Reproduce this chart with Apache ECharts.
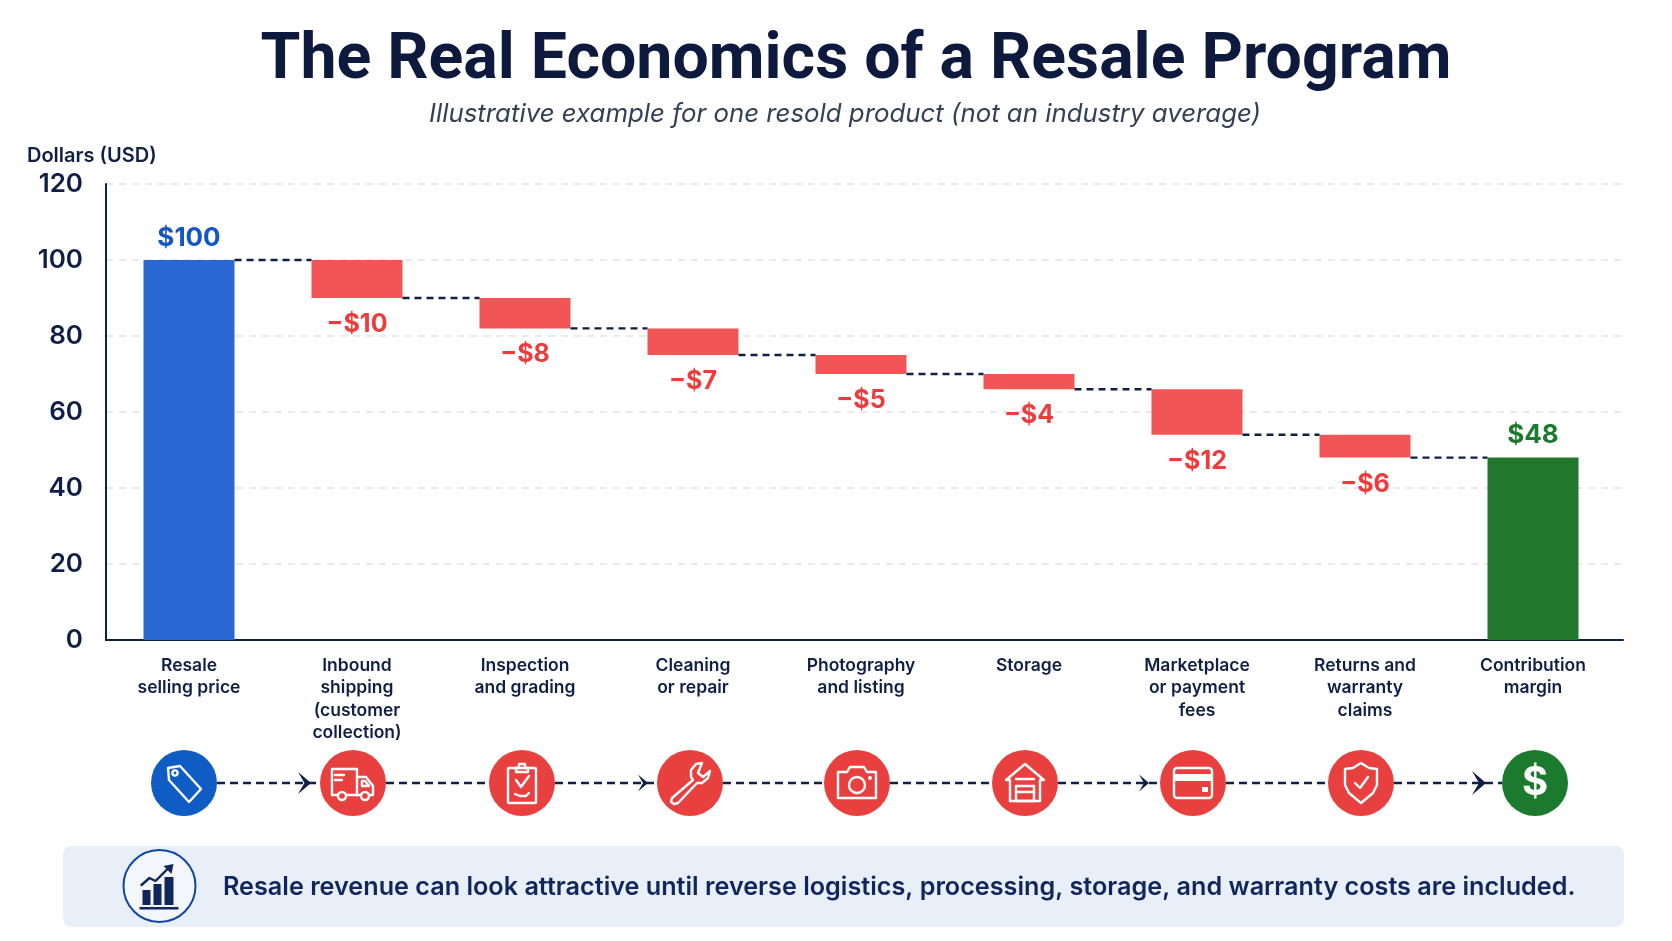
<!DOCTYPE html>
<html>
<head>
<meta charset="utf-8">
<style>html,body{margin:0;padding:0;background:#fff}#c{width:1672px;height:941px}</style>
<script src="https://cdn.jsdelivr.net/npm/echarts@6/dist/echarts.min.js"></script>
</head>
<body>
<div id="c"></div>
<script>
const categories = ['Resale\nselling price','Inbound\nshipping\n(customer\ncollection)','Inspection\nand grading','Cleaning\nor repair','Photography\nand listing','Storage','Marketplace\nor payment\nfees','Returns and\nwarranty\nclaims','Contribution\nmargin'];
const barTypes = ['total','cost','cost','cost','cost','cost','cost','cost','result'];
const barValues = [100,10,8,7,5,4,12,6,48];
const barBases = [0,90,82,75,70,66,54,48,0];
const connectorLevels = [100,90,82,75,70,66,54,48];
const valueLabels = ['$100','−$10','−$8','−$7','−$5','−$4','−$12','−$6','$48'];
const yTicks = [0,20,40,60,80,100,120];

const NAVY='#0f1f45', WHITE='#fff';
const barColor={total:'#2968d3',cost:'#f25555',result:'#21772c'};
const labelColor={total:'#1257c5',cost:'#ee3b3b',result:'#1b7a2b'};
const discColor={total:'#0f5cc4',cost:'#e8403f',result:'#1c7a2e'};
const FONT='Inter';
const BAR_W=91;

const st=(c)=>({stroke:c||WHITE,fill:'none',lineWidth:2.4,lineJoin:'round',lineCap:'round'});
const poly=(p,c)=>({type:'polygon',shape:{points:p},style:st(c)});
const line=(p,c)=>({type:'polyline',shape:{points:p},style:st(c)});
const circ=(x,y,r,c)=>({type:'circle',shape:{cx:x,cy:y,r},style:st(c)});
const rect=(x,y,w,h,r)=>({type:'rect',shape:{x,y,width:w,height:h,r:r||0},style:st()});
const solid=(x,y,w,h,c)=>({type:'rect',shape:{x,y,width:w,height:h},style:{fill:c||WHITE}});

const icons={
 tag:[poly([[-16,-15],[-4,-17],[17,6],[5,19],[-15,-3]]),circ(-9,-10,2.6)],
 truck:[poly([[-21,-14],[4,-14],[4,12],[-21,12]]),line([[4,-6],[13,-6],[20,3],[20,12],[4,12]]),line([[9,-2],[12,-2],[16,3],[9,3],[9,-2]]),
   {type:'circle',shape:{cx:-11,cy:13,r:4},style:{fill:'#e8403f',stroke:WHITE,lineWidth:2.4}},{type:'circle',shape:{cx:12,cy:13,r:4},style:{fill:'#e8403f',stroke:WHITE,lineWidth:2.4}},
   line([[-18,-8],[-9,-8]]),line([[-18,-3],[-11,-3]])],
 clipboard:[rect(-14,-15,28,35,1),poly([[-6,-15],[-3,-15],[-3,-19],[3,-19],[3,-15],[6,-15],[6,-11],[-6,-11]]),line([[-6,-3],[-1,4],[7,-7]]),line([[-7,11],[-2,13],[4,13],[7,10]])],
 wrench:[poly([[12,-20],[6,-19],[1,-13],[1,-6],[3,-3],[-18,15],[-19,19],[-16,21],[-12,20],[7,0],[12,0],[18,-5],[20,-12],[13,-6],[8,-10]])],
 camera:[poly([[-19,-11],[-10,-11],[-7,-16],[7,-16],[10,-11],[19,-11],[19,15],[-19,15]]),circ(0,2,8),circ(13,-5,.8)],
 warehouse:[poly([[-19,-3],[0,-19],[19,-3],[15,-3],[15,18],[-15,18],[-15,-3]]),rect(-9,3,18,15),line([[-9,9],[9,9]]),line([[-9,-4],[9,-4]])],
 card:[rect(-19,-15,38,30,3),solid(-19,-9,38,7),solid(9,4,6,5)],
 shield:[poly([[0,-20],[8,-15],[16,-14],[16,2],[12,10],[6,15],[0,20],[-6,15],[-12,10],[-16,2],[-16,-14],[-8,-15]]),line([[-6,0],[-1,5],[7,-6]])],
 dollar:[{type:'text',style:{text:'$',x:0,y:0,fill:WHITE,font:'700 40px '+FONT,align:'center',verticalAlign:'middle'}}]
};
const iconRow=[
 ['tag',184,'total'],['truck',353,'cost'],['clipboard',522,'cost'],['wrench',690,'cost'],['camera',857,'cost'],
 ['warehouse',1025,'cost'],['card',1193,'cost'],['shield',1361,'cost'],['dollar',1535,'result']
];
const ROW_Y=783;
const flowDash=[8,5];
const flow=(x1,x2)=>({type:'line',shape:{x1,y1:ROW_Y,x2,y2:ROW_Y},style:{stroke:NAVY,lineWidth:2.4,lineDash:flowDash}});
const head=(x,s)=>({type:'polygon',shape:{points:[[x,ROW_Y],[x-s,ROW_Y-s*.85],[x-s*.5,ROW_Y],[x-s,ROW_Y+s*.85]]},style:{fill:NAVY}});

const graphics=[];
for(let i=0;i<iconRow.length-1;i++){graphics.push(flow(iconRow[i][1]+33,iconRow[i+1][1]-33));}
graphics.push(head(311,13),head(648,10),head(1149,10),head(1486,14));
iconRow.forEach(([n,x,t])=>{
 graphics.push({type:'circle',shape:{cx:x,cy:ROW_Y,r:33},style:{fill:discColor[t]}});
 graphics.push({type:'group',x:x,y:ROW_Y,children:icons[n]});
});
graphics.push({type:'rect',shape:{x:63,y:846,width:1561,height:81,r:8},style:{fill:'#e9eff8'}});
graphics.push({type:'circle',shape:{cx:159.5,cy:886,r:36},style:{fill:'#f3f6fb',stroke:'#0d47a1',lineWidth:2}});
graphics.push({type:'group',x:159.5,y:886,children:[
 solid(-17,4,8,15,'#10265c'),solid(-6,-2,8,21,'#10265c'),solid(5,-9,9,28,'#10265c'),solid(-20,21,39,2.5,'#10265c'),
 line([[-18,-1],[-10,-8],[-4,-5],[10,-19]],'#10265c'),
 {type:'polygon',shape:{points:[[14,-22],[4,-20],[12,-12]]},style:{fill:'#10265c'}}
]});
graphics.push({type:'text',style:{text:'Resale revenue can look attractive until reverse logistics, processing, storage, and warranty costs are included.',x:223,y:887,fill:'#10265c',font:'600 25.2px '+FONT,align:'left',verticalAlign:'middle'}});

const option={
 backgroundColor:'#fff',
 animation:false,
 title:[
  {text:'The Real Economics of a Resale Program',left:851,top:25,textAlign:'center',textStyle:{fontFamily:'Roboto',fontWeight:700,fontSize:64.4,color:'#0d1a3d'}},
  {text:'Illustrative example for one resold product (not an industry average)',left:840,top:96,textAlign:'center',textStyle:{fontFamily:FONT,fontStyle:'italic',fontWeight:400,fontSize:25.8,color:'#344055'}}
 ],
 grid:[
  {left:106,top:184,width:1517,height:456,containLabel:false},
  {left:105,top:184,width:1512,height:456,containLabel:false}
 ],
 xAxis:[
  {gridIndex:0,type:'value',min:0,max:1,axisLine:{show:true,onZero:false,lineStyle:{color:NAVY,width:2}},axisTick:{show:false},axisLabel:{show:false},splitLine:{show:false}},
  {gridIndex:1,type:'category',data:categories,axisLine:{show:false},axisTick:{show:false},
   axisLabel:{interval:0,margin:14,color:NAVY,fontFamily:FONT,fontWeight:600,fontSize:17.5,lineHeight:22.5,verticalAlign:'top'}}
 ],
 yAxis:[
  {gridIndex:0,type:'value',min:0,max:120,interval:20,name:'Dollars (USD)',nameLocation:'end',nameGap:18,
   nameTextStyle:{color:NAVY,fontFamily:FONT,fontWeight:600,fontSize:20,align:'left',padding:[0,0,0,-79]},
   axisLine:{show:true,lineStyle:{color:NAVY,width:2}},axisTick:{show:false},
   axisLabel:{margin:23,color:NAVY,fontFamily:FONT,fontWeight:600,fontSize:26},
   splitLine:{show:true,lineStyle:{color:'#e0e3e6',type:[7,6],width:1.6}}},
  {gridIndex:1,type:'value',min:0,max:120,show:false,splitLine:{show:false}}
 ],
 series:[
  {name:'Base',type:'bar',xAxisIndex:1,yAxisIndex:1,stack:'w',barWidth:BAR_W,silent:true,itemStyle:{color:'transparent'},data:barBases},
  {name:'Amount',type:'bar',xAxisIndex:1,yAxisIndex:1,stack:'w',barWidth:BAR_W,
   data:barValues.map((v,i)=>({value:v,itemStyle:{color:barColor[barTypes[i]]},
    label:{show:true,formatter:valueLabels[i],position:barTypes[i]==='cost'?'bottom':'top',distance:barTypes[i]==='cost'?14:9,
     color:labelColor[barTypes[i]],fontFamily:FONT,fontWeight:700,fontSize:barTypes[i]==='cost'?25:26}}))},
  {name:'Connectors',type:'custom',xAxisIndex:1,yAxisIndex:1,silent:true,z:3,
   encode:{x:0,y:1},
   data:connectorLevels.map((v,i)=>[i,v]),
   renderItem:(params,api)=>{
    const i=api.value(0),v=api.value(1);
    const a=api.coord([i,v]),b=api.coord([i+1,v]);
    return {type:'line',shape:{x1:a[0]+BAR_W/2,y1:a[1],x2:b[0]-BAR_W/2,y2:b[1]},style:{stroke:NAVY,lineWidth:2.4,lineDash:[7,5],fill:null}};
   }}
 ],
 graphic:graphics
};
const chart=echarts.init(document.getElementById('c'));
chart.setOption(option);
</script>
</body>
</html>
